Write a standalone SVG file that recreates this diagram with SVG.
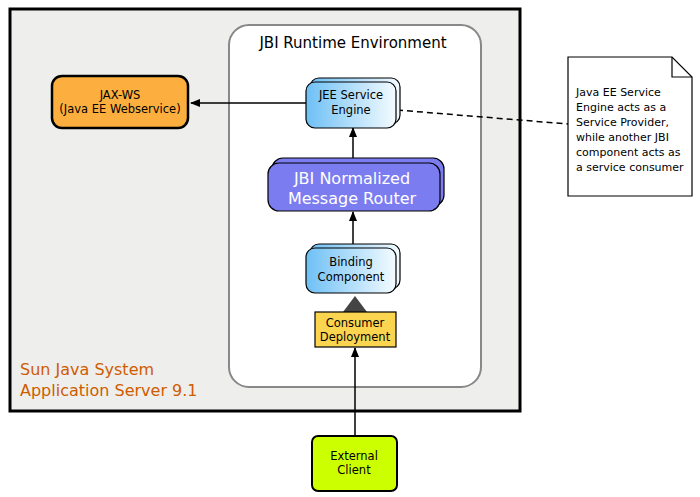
<svg xmlns="http://www.w3.org/2000/svg" width="700" height="497" viewBox="0 0 700 497">
<defs>
<linearGradient id="blue" x1="0" y1="0" x2="1" y2="0"><stop offset="0" stop-color="#6ec0f5"/><stop offset="1" stop-color="#f4fbff"/></linearGradient>
<marker id="arr" markerWidth="10" markerHeight="8" refX="9" refY="4" orient="auto" markerUnits="userSpaceOnUse"><path d="M0,0 L10,4 L0,8 z" fill="#000"/></marker>
</defs>
<style>
text{font-family:"DejaVu Sans",sans-serif;text-anchor:middle}
.s{font-size:11.5px}
.n{font-size:11px;text-anchor:start}
.bl{fill:url(#blue);stroke:#000;stroke-width:1.2}
.ln{stroke:#000;stroke-width:1.5;fill:none}
</style>
<rect x="10" y="9" width="510" height="402" fill="#eeeeec" stroke="#000" stroke-width="3"/>
<g id="jbi"><rect x="229" y="25" width="252" height="362" rx="20" fill="#fff" stroke="#888" stroke-width="2"/>
<text x="353" y="48" font-size="15">JBI Runtime Environment</text></g>
<g id="sun"><text x="20" y="375" font-size="16" fill="#ce5c00" style="text-anchor:start">Sun Java System</text>
<text x="20" y="396" font-size="16" fill="#ce5c00" style="text-anchor:start">Application Server 9.1</text></g>
<g id="connectors">
<line class="ln" x1="306" y1="103" x2="191" y2="103" marker-end="url(#arr)"/>
<line class="ln" x1="353" y1="163" x2="353" y2="128" marker-end="url(#arr)"/>
<line class="ln" x1="353" y1="247" x2="353" y2="212" marker-end="url(#arr)"/>
<line class="ln" x1="355" y1="436" x2="355" y2="348" marker-end="url(#arr)"/>
<line x1="397" y1="110" x2="568" y2="124" stroke="#000" stroke-width="1.5" stroke-dasharray="6,4"/>
<polygon points="343,312 367,312 355,296" fill="#444"/>
</g>
<g id="jaxws"><rect x="52" y="76" width="136" height="52" rx="10" fill="#fcaf3e" stroke="#000" stroke-width="2.5"/>
<text x="120" y="99" class="s">JAX-WS</text><text x="120" y="113" class="s">(Java EE Webservice)</text></g>
<g id="jee"><rect x="310" y="78" width="90" height="46" rx="9" class="bl"/><rect x="306" y="82" width="90" height="46" rx="9" class="bl"/>
<text x="351" y="99" class="s">JEE Service</text><text x="351" y="114" class="s">Engine</text></g>
<g id="router"><rect x="272" y="158" width="172" height="48" rx="11" fill="#7b7cf0" stroke="#000" stroke-width="1.2"/><rect x="268" y="163" width="172" height="48" rx="11" fill="#7b7cf0" stroke="#000" stroke-width="1.2"/>
<text x="352" y="184" font-size="16" fill="#fff">JBI Normalized</text><text x="352" y="204" font-size="16" fill="#fff">Message Router</text></g>
<g id="binding"><rect x="310" y="244" width="90" height="45" rx="9" class="bl"/><rect x="306" y="248" width="90" height="45" rx="9" class="bl"/>
<text x="351" y="266" class="s">Binding</text><text x="351" y="281" class="s">Component</text></g>
<g id="consumer"><rect x="315" y="312" width="81" height="35" fill="#fcd550" stroke="#000" stroke-width="1.2"/>
<text x="355" y="327" class="s">Consumer</text><text x="355" y="341" class="s">Deployment</text></g>
<g id="client"><rect x="312" y="436" width="85" height="55" rx="6" fill="#ccff00" stroke="#000" stroke-width="2"/>
<text x="354" y="460" class="s">External</text><text x="354" y="474" class="s">Client</text></g>
<g id="note"><path d="M568,57 H672 L692,77 V196 H568 Z" fill="#fff" stroke="#000" stroke-width="1.2"/><path d="M672,57 V77 H692" fill="none" stroke="#000" stroke-width="1.2"/>
<text x="576" y="96" class="n">Java EE Service</text>
<text x="576" y="111" class="n">Engine acts as a</text>
<text x="576" y="126" class="n">Service Provider,</text>
<text x="576" y="141" class="n">while another JBI</text>
<text x="576" y="156" class="n">component acts as</text>
<text x="576" y="171" class="n">a service consumer</text></g>
</svg>
